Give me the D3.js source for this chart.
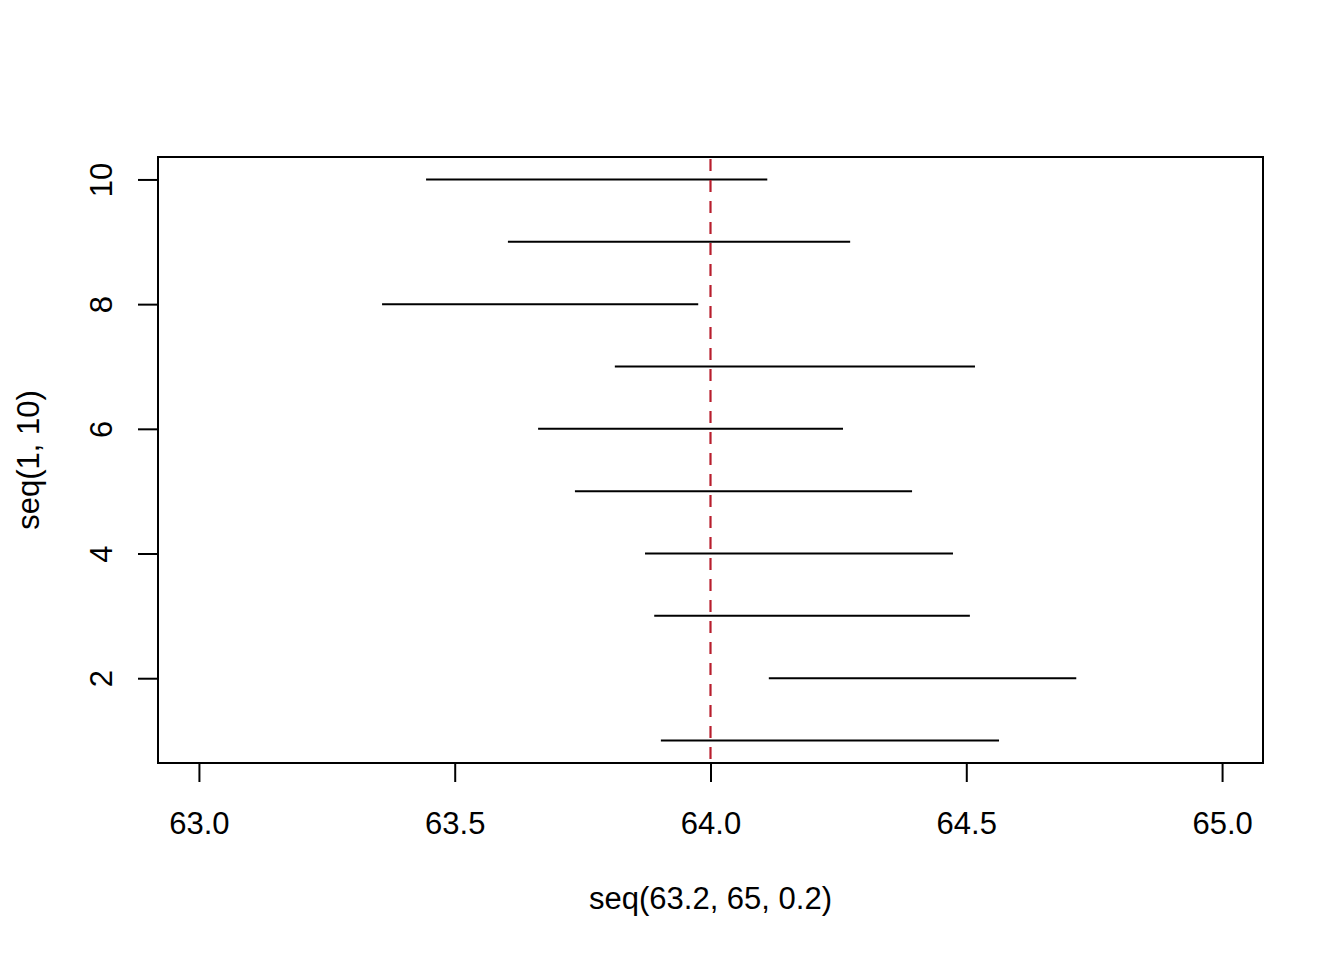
<!DOCTYPE html>
<html>
<head>
<meta charset="utf-8">
<script src="https://cdn.jsdelivr.net/npm/d3@7"></script>
<style>
  body { margin: 0; background: #fff; }
  svg { font-family: "Liberation Sans", Arial, sans-serif; }
</style>
</head>
<body>
<div class="chart"></div>
<script>
const rows = [1, 2, 3, 4, 5, 6, 7, 8, 9, 10];
const lower = [63.903, 64.114, 63.890, 63.872, 63.735, 63.663, 63.813, 63.358, 63.604, 63.444];
const upper = [64.564, 64.715, 64.507, 64.474, 64.394, 64.259, 64.517, 63.976, 64.273, 64.111];
const refLine = 64.0;
const xTicks = [63.0, 63.5, 64.0, 64.5, 65.0];
const yTicks = [2, 4, 6, 8, 10];

const width = 1344;
const height = 960;
const box = {left: 158, right: 1263, top: 157, bottom: 763};
const fontSize = 31;

const x = d3.scaleLinear().domain([62.92, 65.08]).range([box.left, box.right]);
const y = d3.scaleLinear().domain([0.64, 10.36]).range([box.bottom, box.top]);

const svg = d3.select('.chart')
              .append('svg')
              .attr('width', width)
              .attr('height', height);

svg.append('g')
   .attr('transform', `translate(0,${box.bottom})`)
   .call(d3.axisBottom(x).tickValues(xTicks).tickFormat(d3.format('.1f')).tickSizeOuter(0).tickSize(19))
   .call(g => g.select('.domain').attr('d', `M${x(xTicks[0])},0H${x(xTicks[xTicks.length - 1])}`))
   .call(g => g.selectAll('line, path').attr('stroke', '#000').attr('stroke-width', 2))
   .call(g => g.selectAll('text')
      .attr('y', 71).attr('dy', null)
      .attr('font-size', fontSize).attr('fill', '#000')
      .attr('font-family', '"Liberation Sans", Arial, sans-serif'));

svg.append('g')
   .attr('transform', `translate(${box.left},0)`)
   .call(d3.axisLeft(y).tickValues(yTicks).tickSizeOuter(0).tickSize(20))
   .call(g => g.select('.domain').attr('d', `M0,${y(yTicks[0])}V${y(yTicks[yTicks.length - 1])}`))
   .call(g => g.selectAll('line, path').attr('stroke', '#000').attr('stroke-width', 2))
   .call(g => g.selectAll('text').remove())
   .call(g => g.selectAll('.tick').append('text')
      .attr('transform', 'translate(-46,0) rotate(-90)')
      .attr('text-anchor', 'middle')
      .attr('font-size', fontSize)
      .attr('font-family', '"Liberation Sans", Arial, sans-serif')
      .attr('fill', '#000')
      .text(d => d));

// plot box
svg.append('rect')
   .attr('x', box.left).attr('y', box.top)
   .attr('width', box.right - box.left).attr('height', box.bottom - box.top)
   .attr('fill', 'none').attr('stroke', '#000').attr('stroke-width', 2);

svg.append('g')
   .selectAll('line')
   .data(rows)
   .join('line')
   .attr('x1', (d, i) => x(lower[i]))
   .attr('x2', (d, i) => x(upper[i]))
   .attr('y1', d => y(d))
   .attr('y2', d => y(d))
   .attr('stroke', '#000')
   .attr('stroke-width', 2);

svg.append('line')
   .attr('x1', x(refLine)).attr('x2', x(refLine))
   .attr('y1', box.top).attr('y2', box.bottom)
   .attr('stroke', '#B81E2D')
   .attr('stroke-width', 2.2)
   .attr('stroke-dasharray', '12,9')
   .attr('stroke-dashoffset', -2);

svg.append('text')
   .attr('x', (box.left + box.right) / 2)
   .attr('y', 909)
   .attr('text-anchor', 'middle')
   .attr('font-size', fontSize)
   .text('seq(63.2, 65, 0.2)');

svg.append('text')
   .attr('transform', `translate(39,${(box.top + box.bottom) / 2}) rotate(-90)`)
   .attr('text-anchor', 'middle')
   .attr('font-size', fontSize)
   .text('seq(1, 10)');
</script>
</body>
</html>
